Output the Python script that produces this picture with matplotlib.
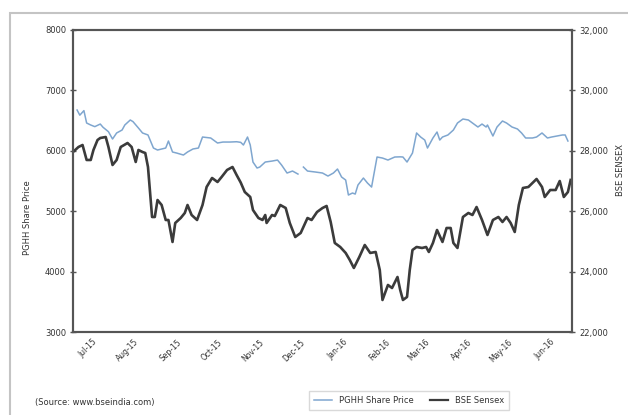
import numpy as np
import matplotlib
matplotlib.use("Agg")
import matplotlib.pyplot as plt
from matplotlib.patches import Rectangle
from matplotlib.lines import Line2D

# days counted from 1 Jul 2015
pghh_day = [3, 5, 8, 10, 13, 16, 20, 22, 26, 29, 32, 36, 38, 42, 44, 48, 51, 55, 59, 62,
            68, 70, 73, 76, 81, 84, 88, 92, 95, 101, 106, 110, 115, 120, 123, 125, 128, 130,
            132, 135, 137, 141, 146, 150, 153, 157, 161, 165, 167, 169, 172, 178, 183, 187,
            191, 194, 197, 200, 202, 205, 207, 209, 213, 216, 219, 223, 227, 231, 236, 240,
            242, 245, 249, 252, 255, 258, 260, 262, 264, 267, 269, 271, 275, 279, 282, 286,
            290, 293, 297, 300, 303, 304, 308, 311, 315, 318, 322, 326, 329, 332, 337, 340,
            344, 348, 351, 355, 359, 361, 363]
pghh_price = [6675, 6590, 6665, 6460, 6427, 6400, 6443, 6390, 6316, 6195, 6295, 6344, 6427,
              6510, 6483, 6377, 6295, 6262, 6046, 6013, 6046, 6162, 5980, 5963, 5930, 5980,
              6030, 6046, 6228, 6212, 6129, 6145, 6145, 6150, 6140, 6096, 6228, 6096, 5814,
              5715, 5731, 5814, 5830, 5847, 5764, 5632, 5665, 5615, np.nan, 5731, 5665, 5648,
              5632, 5582, 5632, 5698, 5566, 5516, 5268, 5301, 5284, 5433, 5549, 5466, 5400,
              5897, 5880, 5847, 5897, 5900, 5897, 5814, 5963, 6295, 6228, 6178, 6046, 6129,
              6212, 6311, 6178, 6228, 6262, 6344, 6460, 6526, 6510, 6460, 6394, 6443, 6394,
              6427, 6245, 6394, 6493, 6460, 6394, 6361, 6295, 6212, 6212, 6228, 6295, 6212,
              6228, 6245, 6262, 6262, 6162]

sensex_day = [0, 4, 7, 10, 13, 15, 18, 20, 24, 26, 29, 32, 35, 40, 43, 46, 48, 51, 53, 55,
              58, 60, 62, 65, 68, 70, 73, 75, 79, 82, 84, 87, 91, 95, 98, 102, 106, 109, 113,
              117, 120, 123, 126, 130, 132, 136, 139, 141, 142, 146, 148, 152, 156, 159, 163,
              167, 172, 175, 179, 183, 186, 189, 192, 196, 200, 203, 206, 210, 214, 218, 222,
              225, 227, 231, 234, 238, 240, 242, 245, 247, 249, 252, 256, 259, 261, 264, 267,
              271, 274, 277, 279, 282, 286, 290, 293, 296, 300, 304, 308, 312, 315, 318, 321,
              324, 327, 330, 334, 337, 340, 344, 346, 350, 354, 357, 360, 363, 365]
sensex_value = [27960, 28126, 28192, 27696, 27696, 28027, 28358, 28424, 28457, 28126, 27530,
                27696, 28126, 28258, 28126, 27630, 28027, 27960, 27927, 27464, 25808, 25808,
                26371, 26206, 25709, 25709, 24981, 25610, 25775, 25941, 26206, 25874, 25709,
                26206, 26802, 27100, 26967, 27133, 27365, 27464, 27199, 26950, 26636, 26471,
                26040, 25775, 25709, 25874, 25610, 25874, 25841, 26206, 26106, 25610, 25146,
                25279, 25775, 25709, 25974, 26106, 26173, 25643, 24948, 24815, 24617, 24385,
                24120, 24484, 24881, 24617, 24650, 24054, 23060, 23557, 23457, 23822, 23391,
                23060, 23160, 24054, 24716, 24815, 24782, 24815, 24650, 24948, 25378, 24981,
                25444, 25444, 24948, 24782, 25808, 25941, 25874, 26139, 25709, 25212, 25709,
                25808, 25643, 25808, 25610, 25312, 26206, 26769, 26802, 26934, 27067, 26802,
                26471, 26702, 26702, 27000, 26471, 26636, 27034]

month_labels = ["Jul-15", "Aug-15", "Sep-15", "Oct-15", "Nov-15", "Dec-15",
                "Jan-16", "Feb-16", "Mar-16", "Apr-16", "May-16", "Jun-16"]

start = np.datetime64("2015-07-01")
pghh_dates = start + np.array(pghh_day).astype("timedelta64[D]")
sensex_dates = start + np.array(sensex_day).astype("timedelta64[D]")
tick_dates = np.arange("2015-07", "2016-07", dtype="datetime64[M]") + np.timedelta64(14, "D")

plt.rcParams["font.family"] = "DejaVu Sans"
axis_col = "#555555"
text_col = "#333333"
blue = "#7fa6cf"
dark = "#3b3b3b"

fig = plt.figure(figsize=(6.28, 4.15), dpi=100)
# grey frame of the scanned page, running off the right and bottom edges
fig.patches.append(Rectangle((10 / 628, -0.1), 1.2, 1 - 13 / 415 + 0.1,
                             transform=fig.transFigure, fill=False,
                             edgecolor="#c4c4c4", linewidth=1.5))

ax = fig.add_axes([73 / 628, 1 - 332 / 415, 499 / 628, 302 / 415])
ax2 = ax.twinx()

ax.plot(pghh_dates, pghh_price, color=blue, linewidth=1.1)
ax2.plot(sensex_dates, sensex_value, color=dark, linewidth=1.9)

ax.set_xlim(np.datetime64("2015-07-01"), np.datetime64("2016-07-01"))
ax.set_ylim(3000, 8000)
ax2.set_ylim(22000, 32000)
ax.set_yticks(range(3000, 8001, 1000))
ax2.set_yticks(range(22000, 32001, 2000))
ax2.set_yticklabels([f"{v:,}" for v in range(22000, 32001, 2000)])

ax.set_xticks(tick_dates)
ax.set_xticklabels(month_labels, rotation=45, ha="right", rotation_mode="anchor")
ax.tick_params(axis="x", length=0, pad=4, labelsize=5.5, labelcolor=text_col)
ax.tick_params(axis="y", direction="inout", length=4, width=1, color=axis_col,
               labelsize=6, labelcolor=text_col, pad=3)
ax2.tick_params(axis="y", direction="inout", length=4, width=1, color=axis_col,
                labelsize=6, labelcolor=text_col, pad=3)

for a in (ax, ax2):
    for s in a.spines.values():
        s.set_color(axis_col)
        s.set_linewidth(1.5)

fig.text(28 / 628, 1 - 218 / 415, "PGHH Share Price", rotation=90,
         ha="center", va="center", fontsize=6, color=text_col)
fig.text(616 / 628, 1 - 170 / 415, "BSE SENSEX", rotation=90,
         ha="left", va="center", fontsize=6, color=text_col)
fig.text(35 / 628, 1 - 402 / 415, "(Source: www.bseindia.com)",
         ha="left", va="center", fontsize=6, color=text_col)

handles = [Line2D([], [], color=blue, linewidth=1.1),
           Line2D([], [], color=dark, linewidth=1.6)]
leg = fig.legend(handles, ["PGHH Share Price", "BSE Sensex"], loc="center",
                 bbox_to_anchor=(409 / 628, 1 - 400 / 415), ncol=2, fontsize=6,
                 frameon=True, fancybox=False, edgecolor="#d0d0d0",
                 handlelength=2.2, columnspacing=2.0, borderpad=0.6)
for t in leg.get_texts():
    t.set_color(text_col)

fig.savefig("out.png", dpi=100)
